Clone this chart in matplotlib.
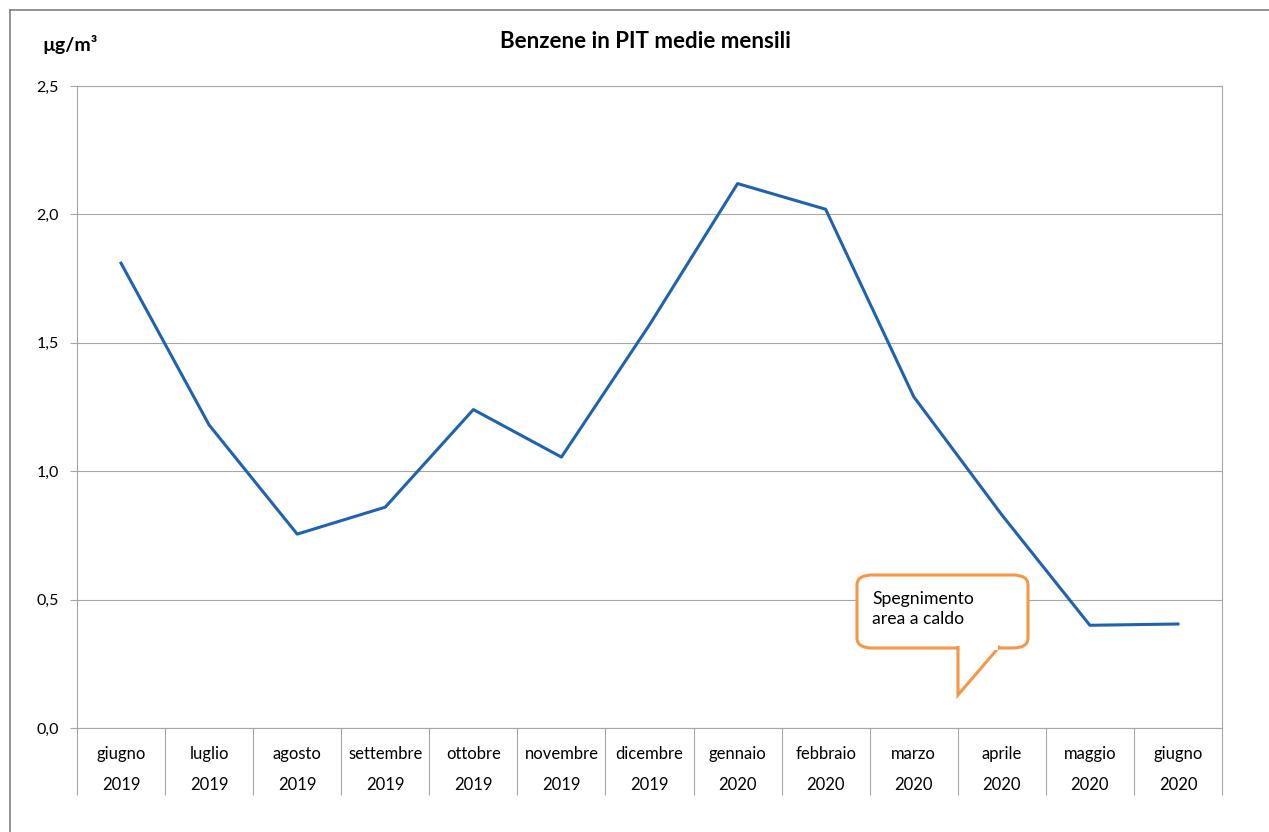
import matplotlib
matplotlib.use("Agg")
import matplotlib.pyplot as plt
from matplotlib.patches import FancyBboxPatch, Polygon
from matplotlib.lines import Line2D

plt.rcParams['font.family'] = ['Lato', 'DejaVu Sans']

# monthly means of benzene (ug/m3)
months = ["giugno", "luglio", "agosto", "settembre", "ottobre", "novembre", "dicembre",
          "gennaio", "febbraio", "marzo", "aprile", "maggio", "giugno"]
years = ["2019"] * 7 + ["2020"] * 6
values = [1.81, 1.18, 0.755, 0.86, 1.24, 1.055, 1.57, 2.12, 2.02, 1.29, 0.83, 0.40, 0.405]
y_ticks = [0.0, 0.5, 1.0, 1.5, 2.0, 2.5]

grey = "#A6A6A6"
fig = plt.figure(figsize=(12.69, 8.32), dpi=100)
ax = fig.add_axes([77 / 1269, 1 - 728 / 832, (1222 - 77) / 1269, (728 - 86) / 832])

x = list(range(len(values)))
ax.plot(x, values, color="#1F63AE", lw=2.2, solid_joinstyle="round", zorder=3)

ax.set_xlim(-0.5, len(values) - 0.5)
ax.set_ylim(0, 2.5)
ax.set_yticks(y_ticks)
ax.set_yticklabels([f"{v:.1f}".replace(".", ",") for v in y_ticks], fontsize=11.5)
ax.yaxis.grid(True, color=grey, lw=0.8)
ax.set_axisbelow(True)
ax.tick_params(axis="y", length=5, color=grey, pad=8)

# category ticks: labels at centres, separators at boundaries
ax.set_xticks(x)
ax.set_xticklabels([f"{m}\n\n{y}" for m, y in zip(months, years)], fontsize=12, linespacing=0.95)
ax.tick_params(axis="x", which="major", length=0, pad=13)
ax.set_xticks([i - 0.5 for i in range(len(values) + 1)], minor=True)
ax.tick_params(axis="x", which="minor", length=48, color=grey, width=0.8)

for s in ax.spines.values():
    s.set_color(grey)
    s.set_linewidth(0.8)

fig.text(645 / 1269, 1 - 42 / 832, "Benzene in PIT medie mensili", ha="center", va="center",
         fontsize=16, fontweight="bold")
fig.text(42 / 1269, 1 - 45 / 832, "µg/m³", ha="left", va="center", fontsize=14, fontweight="bold")

# callout
orange = "#F79646"
box = FancyBboxPatch((857 / 1269, 1 - 648 / 832), (1028 - 857) / 1269, (648 - 575) / 832,
                     boxstyle="round,pad=0,rounding_size=0.012", transform=fig.transFigure,
                     fc="white", ec=orange, lw=2.2, zorder=5)
fig.patches.append(box)
tail = Polygon([(958 / 1269, 1 - 646 / 832), (958 / 1269, 1 - 695 / 832), (1000 / 1269, 1 - 646 / 832)],
               closed=False, transform=fig.transFigure, fc="white", ec=orange, lw=2.2, zorder=6)
fig.patches.append(tail)
fig.patches.append(Polygon([(959.5 / 1269, 1 - 645 / 832), (959.5 / 1269, 1 - 650 / 832),
                            (998 / 1269, 1 - 650 / 832), (998 / 1269, 1 - 645 / 832)],
                           transform=fig.transFigure, fc="white", ec="none", zorder=7))
fig.text(872 / 1269, 1 - 609 / 832, "Spegnimento\narea a caldo", ha="left", va="center",
         fontsize=12.7, linespacing=1.25, zorder=8)

# outer chart frame
fig.add_artist(Line2D([10 / 1269, 10 / 1269], [0, 1 - 10 / 832], transform=fig.transFigure, color="#808080", lw=1.2))
fig.add_artist(Line2D([10 / 1269, 1], [1 - 10 / 832, 1 - 10 / 832], transform=fig.transFigure, color="#808080", lw=1.2))

fig.savefig("out.png", dpi=100)
